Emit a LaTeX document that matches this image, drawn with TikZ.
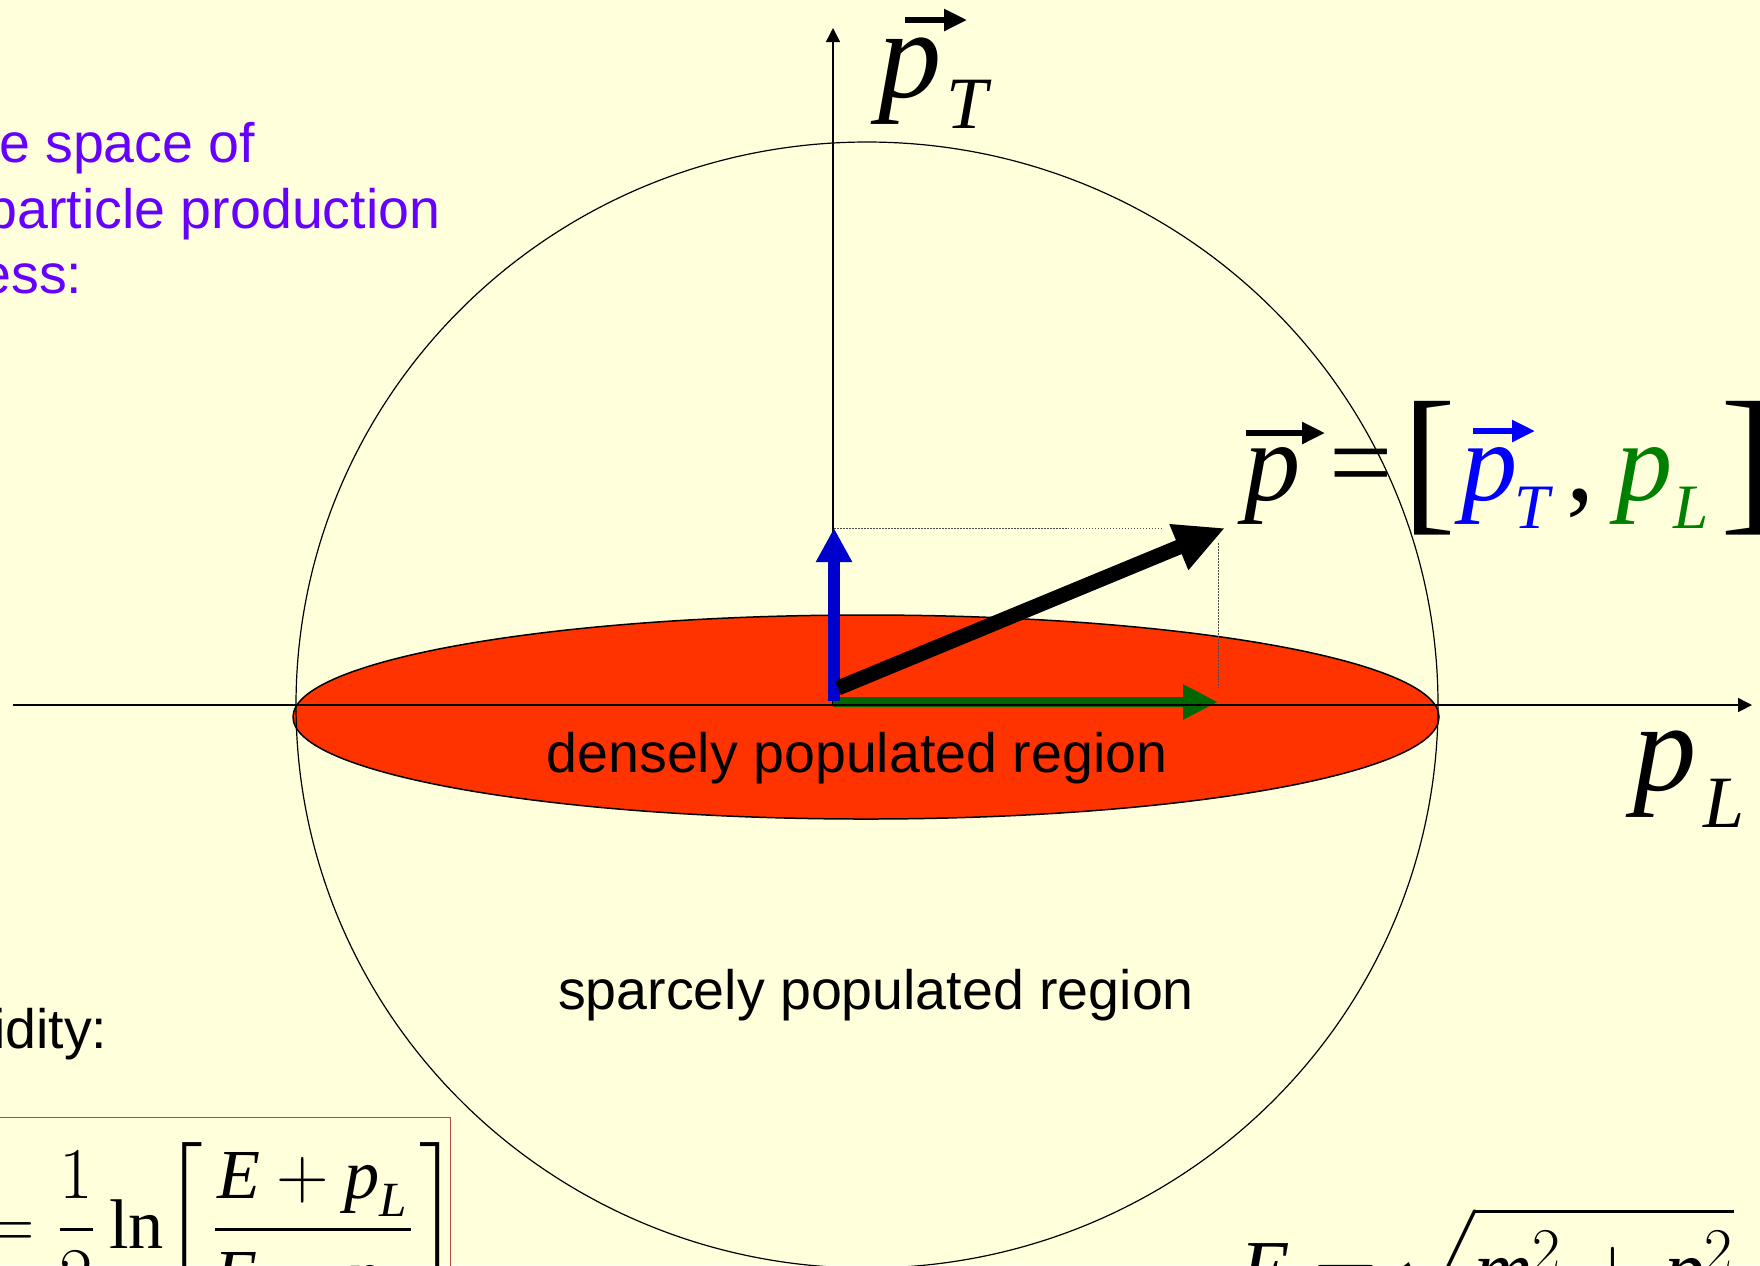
\documentclass[tikz,border=0pt]{standalone}
\usepackage{amsmath}
\usepackage{fontspec}
\setmainfont{Liberation Serif}
\newfontfamily\arial{Liberation Sans}
\usetikzlibrary{arrows.meta}

\definecolor{slidebg}{RGB}{255,255,220}
\definecolor{densered}{RGB}{255,51,0}
\definecolor{titlepurple}{RGB}{102,0,255}
\definecolor{ptblue}{RGB}{0,0,204}
\definecolor{plgreen}{RGB}{0,102,0}
\definecolor{textblue}{RGB}{0,0,255}
\definecolor{textgreen}{RGB}{0,128,0}
\definecolor{framered}{RGB}{176,72,72}

\newcommand{\tvar}[1]{\text{\itshape #1}}

\tikzset{
  region/.style={font=\arial\fontsize{15.8}{19}\selectfont, inner sep=0pt},
  heading/.style={region, text=titlepurple},
  bigsym/.style={font=\fontsize{36}{36}\selectfont\itshape, inner sep=0pt},
  subsym/.style={font=\fontsize{21}{21}\selectfont\itshape, inner sep=0pt},
  eqsym/.style={font=\fontsize{32}{32}\selectfont\itshape, inner sep=0pt},
  eqop/.style={font=\fontsize{32}{32}\selectfont, inner sep=0pt},
  eqsub/.style={font=\fontsize{18}{18}\selectfont\itshape, inner sep=0pt},
  eqbrack/.style={font=\fontsize{46}{46}\selectfont, inner sep=0pt},
  axis/.style={line width=0.15mm, -{Triangle[length=1.4mm,width=1.4mm]}},
  accent/.style={line width=0.55mm, -{Triangle[length=2.3mm,width=2.1mm]}},
  guide/.style={line width=0.1mm, black!70, dash pattern=on 0.15mm off 0.15mm},
}

\begin{document}
\begin{tikzpicture}[x=0.1mm, y=-0.1mm]
\useasboundingbox (0,0) rectangle (1760,1265);
\clip (0,0) rectangle (1760,1265);
\fill[slidebg] (0,0) rectangle (1760,1265);

% Heading (cut at the left edge)
\node[heading, anchor=base east] (head1) at (256,162) {e space of};
\node[heading, anchor=base east] (head2) at (441,228) {particle production};
\node[heading, anchor=base east] (head3) at (83,293) {ess:};

% Populated regions
\draw[line width=0.15mm, fill=densered] (866,717) ellipse [x radius=57.3mm, y radius=10.2mm];
\draw[line width=0.12mm] (867,705) ellipse [x radius=57.1mm, y radius=56.3mm];

% Axes
\coordinate (O) at (833,705);
\coordinate (ytop) at (833,28);
\coordinate (xstart) at (13,705);
\coordinate (xend) at (1752,705);
\draw[axis] (O) -- (ytop);

% Projections of p
\coordinate (pT) at (834,528);
\coordinate (pL) at (1218,702);
\coordinate (p) at (1225,528);
\coordinate (hguide) at (1163,528);
\coordinate (vguide1) at (1218,543);
\coordinate (vguide2) at (1218,688);
\draw[guide] (pT) -- (hguide);
\draw[guide] (vguide1) -- (vguide2);

% Components and total momentum
\coordinate (Og) at (833,702);
\coordinate (Ob) at (834,701);
\coordinate (Op) at (838,688);
\draw[plgreen, line width=1mm, -{Triangle[length=3.5mm,width=3.3mm]}] (Og) -- (pL);
\draw[ptblue, line width=1.2mm, -{Triangle[length=3.4mm,width=3.4mm]}] (Ob) -- (pT);
\draw[line width=1.5mm, -{Triangle[length=5mm,width=4.6mm]}] (Op) -- (p);
\draw[axis] (xstart) -- (xend);

% Region labels
\node[region, anchor=base] (dense) at (857,772) {densely populated region};
\node[region, anchor=base] (sparse) at (876,1009) {sparcely populated region};

% Axis labels
\node[bigsym, anchor=base west] (pTp) at (878,97) {p};
\node[subsym, anchor=base west] (pTs) at (946,128) {T};
\draw[accent] (905,20) -- (967,20);
\node[bigsym, anchor=base west] (pLp) at (1633,790) {p};
\node[subsym, anchor=base west] (pLs) at (1703,827) {L};

% p = [pT, pL]
\node[eqsym, anchor=base west] (vp) at (1244,500) {p};
\draw[accent] (1246,433) -- (1325,433);
\node[eqop, anchor=base west] (veq) at (1329,500) {=};
\node[eqbrack, anchor=base west] (vlb) at (1402,513) {[};
\node[eqsym, text=textblue, anchor=base west] (vpT) at (1461,500) {p};
\node[eqsub, text=textblue, anchor=base west] (vT) at (1514,528) {T};
\draw[accent, textblue] (1473,431) -- (1535,431);
\node[eqop, anchor=base west] (vcomma) at (1566,500) {,};
\node[eqsym, text=textgreen, anchor=base west] (vpL) at (1616,500) {p};
\node[eqsub, text=textgreen, anchor=base west] (vL) at (1673,528) {L};
\node[eqbrack, anchor=base west] (vrb) at (1720,513) {]};

% Rapidity
\node[region, anchor=base east] (rapid) at (108,1048) {idity:};
\draw[framered, line width=0.1mm] (-5,1117) rectangle (450,1300);
\node[inner sep=0pt, anchor=base west, font=\fontsize{20}{24}\selectfont] (rapeq) at (-18,1248)
  {$=\dfrac{1}{2}\ln\!\left[\mkern2mu\dfrac{\tvar{E}+\tvar{p}_{\tvar{L}}}{\tvar{E}-\tvar{p}_{\tvar{L}}}\mkern1mu\right]$};

% Energy
\node[inner sep=0pt, anchor=base west, font=\fontsize{23}{27}\selectfont] (energy) at (1240,1296)
  {$\tvar{E}=\mkern-3mu\sqrt{\rule{0pt}{0.95em}\tvar{m}^2+\tvar{p}^2}$};

\end{tikzpicture}
\end{document}
